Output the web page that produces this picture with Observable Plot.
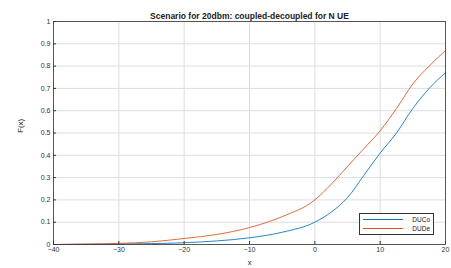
<!DOCTYPE html>
<html><head><meta charset="utf-8">
<script src="https://cdn.jsdelivr.net/npm/d3@7"></script>
<script src="https://cdn.jsdelivr.net/npm/@observablehq/plot@0.6"></script>
<style>
body{margin:0;background:#fff;font-family:"Liberation Sans",Arial,sans-serif;}
#wrap{position:relative;width:451px;height:268px;}
#legend{position:absolute;left:359px;top:213px;width:73px;height:20px;border:1px solid #333;background:#fff;font-size:6.5px;color:#222;}
.row{position:absolute;left:0;width:73px;height:9px;}
.row .ln{position:absolute;left:3px;width:40px;top:4px;height:0;border-top:1px solid;}
.row .tx{position:absolute;right:3px;top:0;line-height:9px;}
</style></head><body>
<div id="wrap"></div>
<script>
const xs = [-40,-35,-30,-25,-20,-15,-10,-5,0,2.5,5,7.5,10,12.5,15,17.5,20];
const duco = [0,0.001,0.002,0.004,0.008,0.016,0.03,0.055,0.1,0.145,0.21,0.31,0.41,0.5,0.61,0.7,0.77];
const dude = [0,0.002,0.005,0.012,0.027,0.045,0.076,0.125,0.2,0.27,0.35,0.43,0.51,0.61,0.72,0.8,0.87];
const seriesNames = ["DUCo","DUDe"];
const colors = ["#0072BD","#D95319"];
const xTicks = [-40,-30,-20,-10,0,10,20];
const yTicks = [0,0.1,0.2,0.3,0.4,0.5,0.6,0.7,0.8,0.9,1];
const titleText = "Scenario for 20dbm: coupled-decoupled for N UE";

const data = [];
xs.forEach((x,i)=>{ data.push({x, y:duco[i], s:seriesNames[0]}); data.push({x, y:dude[i], s:seriesNames[1]}); });

const chart = Plot.plot({
  width:451, height:268,
  marginLeft:53, marginRight:6, marginTop:21, marginBottom:24,
  style:{fontFamily:"Liberation Sans, Arial, sans-serif", fontSize:"7px", color:"#333", background:"#fff"},
  x:{domain:[-40,20], ticks:xTicks, label:null},
  y:{domain:[0,1], ticks:yTicks, label:null, tickFormat:d=>String(+d.toFixed(1))},
  color:{domain:seriesNames, range:colors},
  marks:[
    Plot.gridX(xTicks,{stroke:"#ddd", strokeOpacity:1}),
    Plot.gridY(yTicks,{stroke:"#ddd", strokeOpacity:1}),
    Plot.line(data,{x:"x", y:"y", stroke:"s", strokeWidth:0.85, curve:"monotone-x"}),
    Plot.frame({stroke:"#333", strokeWidth:0.8}),
    Plot.axisX(xTicks,{tickSize:-3, tickPadding:6, stroke:"#333", fill:"#333"}),
    Plot.axisY(yTicks,{tickSize:-3, tickPadding:6, stroke:"#333", fill:"#333", tickFormat:d=>String(+d.toFixed(1))}),
    Plot.text([titleText],{frameAnchor:"top", dy:-9, fontWeight:"bold", fontSize:8.5, fill:"#222"}),
    Plot.text(["x"],{frameAnchor:"bottom", dy:20, fontSize:7.5, fill:"#222"}),
    Plot.text(["F(x)"],{frameAnchor:"left", dx:-33, rotate:-90, fontSize:8, fill:"#222"})
  ]
});
const wrap = document.getElementById("wrap");
wrap.appendChild(chart);
const leg = document.createElement("div");
leg.id="legend";
seriesNames.forEach((n,i)=>{
  const r=document.createElement("div"); r.className="row"; r.style.top=(1+i*9)+"px";
  r.innerHTML=`<div class="ln" style="border-color:${colors[i]}"></div><div class="tx">${n}</div>`;
  leg.appendChild(r);
});
wrap.appendChild(leg);
</script>
</body></html>
